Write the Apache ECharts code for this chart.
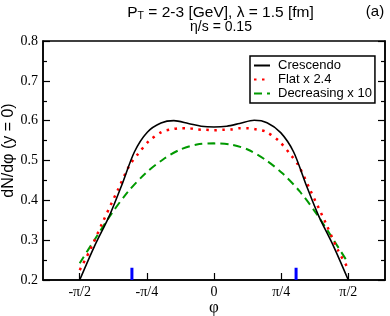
<!DOCTYPE html>
<html><head><meta charset="utf-8">
<script src="https://cdn.jsdelivr.net/npm/echarts@6/dist/echarts.min.js"></script>
<style>html,body{margin:0;padding:0;background:#fff}#c{width:390px;height:316px}</style>
</head><body><div id="c"></div>
<script>
// Tick labels
const xTickValues = [-Math.PI/2, -Math.PI/4, 0, Math.PI/4, Math.PI/2];
const xTickLabels = ['-π/2', '-π/4', '0', 'π/4', 'π/2'];

// Crescendo (black solid)
const crescX = [-1.5708,-1.40,-1.22,-1.07,-0.93,-0.78,-0.62,-0.47,-0.30,-0.15,0,0.15,0.30,0.47,0.62,0.78,0.93,1.07,1.22,1.40,1.5708];
const crescY = [0.200,0.284,0.363,0.443,0.522,0.571,0.594,0.600,0.593,0.586,0.584,0.586,0.593,0.601,0.595,0.570,0.522,0.443,0.363,0.284,0.200];

// Flat x 2.4 (red dotted)
const flatX = [-1.5708,-1.45,-1.30,-1.125,-0.99,-0.89,-0.76,-0.61,-0.50,-0.40,-0.30,-0.20,-0.10,0,0.10,0.20,0.30,0.40,0.50,0.61,0.76,0.89,0.99,1.125,1.30,1.45,1.5708];
const flatY = [0.225,0.275,0.346,0.426,0.487,0.516,0.549,0.572,0.578,0.581,0.581,0.578,0.577,0.576,0.577,0.578,0.581,0.581,0.578,0.572,0.549,0.516,0.487,0.426,0.346,0.275,0.228];

// Decreasing x 10 (green dashed)
const decrX = [-1.5708,-1.40,-1.20,-1.00,-0.80,-0.60,-0.40,-0.20,0,0.20,0.40,0.60,0.80,1.00,1.20,1.40,1.5708];
const decrY = [0.242,0.300,0.366,0.423,0.468,0.502,0.527,0.540,0.543,0.540,0.527,0.502,0.468,0.423,0.366,0.300,0.242];

// Blue markers (vertical bars at the x axis)
const markX = [-0.96, 0.96];
const markBottom = [0.2, 0.2];
const markTop = [0.231, 0.231];

const pairs = (xs, ys) => xs.map((x, i) => [x, ys[i]]);
const markData = [];
markX.forEach((x, i) => { markData.push([x, markBottom[i]], [x, markTop[i]], null); });

const serif = 'Liberation Serif';
const sans = 'Liberation Sans';

const chart = echarts.init(document.getElementById('c'));
chart.setOption({
  animation: false,
  backgroundColor: '#fff',
  title: [
    { text: '{a|P}{s|T}{a| = 2-3 [GeV], λ = 1.5 [fm]}', left: 215.5, top: -1, textAlign: 'center',
      textStyle: { fontWeight: 'normal', rich: { a: { fontFamily: sans, fontSize: 15.5, fontWeight: 'normal', color: '#000' }, s: { fontFamily: sans, fontSize: 10.5, fontWeight: 'normal', color: '#000', verticalAlign: 'bottom', padding: [7,0,0,0] } } } },
    { text: 'η/s = 0.15', left: 216, top: 15, textAlign: 'center',
      textStyle: { fontFamily: sans, fontSize: 14, fontWeight: 'normal', color: '#000' } },
    { text: '(a)', left: 370, top: -1, textAlign: 'center',
      textStyle: { fontFamily: sans, fontSize: 15, fontWeight: 'normal', color: '#000' } }
  ],
  grid: { left: 43, right: 5, top: 41, bottom: 36, outerBoundsMode: 'none', containLabel: false, show: true, borderColor: '#000', borderWidth: 1.5, backgroundColor: 'transparent' },
  legend: {
    data: ['Crescendo', 'Flat x 2.4', 'Decreasing x 10'],
    orient: 'vertical', left: 250, top: 56,
    itemWidth: 16, itemHeight: 12, itemGap: 1,
    padding: [3, 3, 3, 3],
    itemStyle: { opacity: 0 },
    backgroundColor: '#fff', borderColor: '#000', borderWidth: 1.5,
    textStyle: { fontFamily: sans, fontSize: 13, color: '#000', padding: [0, 0, 0, 3] }
  },
  xAxis: [{
    type: 'value', min: -2, max: 2,
    name: 'φ', nameLocation: 'middle', nameGap: 19, nameMoveOverlap: false,
    nameTextStyle: { fontFamily: serif, fontSize: 17, color: '#000', verticalAlign: 'top' },
    axisLine: { show: true, onZero: false, lineStyle: { color: '#000', width: 1.5 } },
    axisTick: { show: true, inside: true, length: 7, customValues: xTickValues, lineStyle: { color: '#000', width: 1.2 } },
    axisLabel: { show: true, customValues: xTickValues, margin: 5, fontFamily: serif, fontSize: 14, color: '#000',
      formatter: v => { const i = xTickValues.findIndex(t => Math.abs(t - v) < 1e-6); return i >= 0 ? xTickLabels[i] : ''; } },
    splitLine: { show: false }
  }],
  yAxis: [{
    type: 'value', min: 0.2, max: 0.8, interval: 0.1,
    name: 'dN/dφ (y = 0)', nameLocation: 'middle', nameGap: 26, nameMoveOverlap: false,
    nameTextStyle: { fontFamily: sans, fontSize: 16, color: '#000', padding: [0, 0, 0, 20] },
    axisLine: { show: true, onZero: false, lineStyle: { color: '#000', width: 1.5 } },
    axisTick: { show: true, inside: true, length: 7, lineStyle: { color: '#000', width: 1.2 } },
    minorTick: { show: true, splitNumber: 2, length: 4, lineStyle: { color: '#000', width: 1.2 } },
    axisLabel: { margin: 5, fontFamily: serif, fontSize: 14, color: '#000', formatter: v => v.toFixed(1) },
    splitLine: { show: false }
  }, {
    type: 'value', position: 'right', min: 0.2, max: 0.8, interval: 0.1,
    axisLine: { show: true, onZero: false, lineStyle: { color: '#000', width: 1.5 } },
    axisTick: { show: true, inside: true, length: 7, lineStyle: { color: '#000', width: 1.2 } },
    minorTick: { show: true, splitNumber: 2, length: 4, lineStyle: { color: '#000', width: 1.2 } },
    axisLabel: { show: false },
    splitLine: { show: false }
  }],
  series: [
    { name: 'Crescendo', type: 'line', data: pairs(crescX, crescY), smooth: 0.3, symbol: 'none',
      color: '#000', lineStyle: { color: '#000', width: 1.6 }, z: 4 },
    { name: 'Flat x 2.4', type: 'line', data: pairs(flatX, flatY), smooth: 0.3, symbol: 'none',
      color: '#ff0000', lineStyle: { color: '#ff0000', width: 2.5, type: [2.5, 5.5] }, z: 3 },
    { name: 'Decreasing x 10', type: 'line', data: pairs(decrX, decrY), smooth: 0.3, symbol: 'none',
      color: '#009900', lineStyle: { color: '#009900', width: 2, type: [8, 5] }, z: 2 },
    { name: 'markers', type: 'line', data: markData, symbol: 'none', connectNulls: false,
      lineStyle: { color: '#0000ff', width: 3 }, z: 5 }
  ]
});
</script>
</body></html>
